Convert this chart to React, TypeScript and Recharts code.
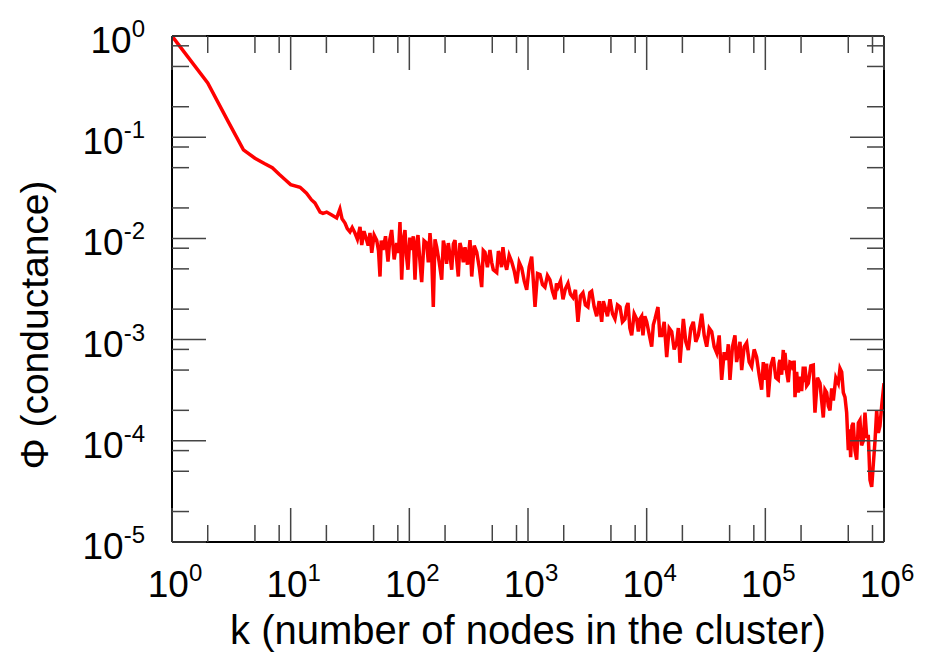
import { LineChart, Line, XAxis, YAxis } from 'recharts';

// cluster size k (x) and conductance phi (y)
const sizesHead = [1, 2, 3, 4, 5, 6, 7, 8, 9, 10, 12, 13.6, 15, 16, 17.7, 18.7, 20.1, 22.2, 24.4, 26, 27.1];
const phiHead = [1, 0.343, 0.14, 0.075, 0.062, 0.055, 0.05, 0.043, 0.038, 0.034, 0.032, 0.028, 0.024, 0.0224, 0.0182, 0.0177, 0.0182, 0.017, 0.0159, 0.0195, 0.0156];

// noisy band, k = 28 .. 510
const sizesMid = [
  28.7, 30, 31.6, 33, 34.8, 36.5, 38.4, 39.7, 41.5, 43.7,
  45, 46.6, 48.2, 50.5, 53.1, 55, 56.6, 58, 60, 63,
  66.1, 68.5, 71, 74.5, 78.3, 81, 83.4, 86.2, 89, 91.9,
  94.5, 97.4, 101, 104.7, 108, 111.6, 115, 118.3, 122.5, 127.1,
  133, 140, 144.5, 149.3, 154, 159.2, 164.5, 170.1, 178.5, 187.4,
  193.5, 199.7, 206, 213, 220, 227.5, 235, 242.5, 250.5, 258.6,
  267, 276, 285, 294.5, 309, 324.6, 330, 335.5, 352, 369.8,
  388, 407, 420, 434, 455, 478, 494, 510,
];
const phiMid = [
  0.0142, 0.0125, 0.0116, 0.0128, 0.0113, 0.0098, 0.013, 0.0086, 0.0118, 0.0096,
  0.0085, 0.0113, 0.0072, 0.0108, 0.0096, 0.0075, 0.0042, 0.0095, 0.0077, 0.0105,
  0.0059, 0.0098, 0.0121, 0.0062, 0.009, 0.0072, 0.0145, 0.0039, 0.0098, 0.0121,
  0.0068, 0.0049, 0.0102, 0.0077, 0.0105, 0.0039, 0.0088, 0.0108, 0.0062, 0.0037,
  0.0095, 0.009, 0.0058, 0.0113, 0.0072, 0.0021, 0.0098, 0.0082, 0.0058, 0.0039,
  0.0095, 0.008, 0.0056, 0.009, 0.0068, 0.0049, 0.0088, 0.0096, 0.0062, 0.0042,
  0.009, 0.0077, 0.0058, 0.0082, 0.0055, 0.0096, 0.0065, 0.0042, 0.0085, 0.0073,
  0.0052, 0.0033, 0.0076, 0.0073, 0.0052, 0.0077, 0.0058, 0.0049,
];

// k = 545 .. 10^4
const sizesMid2 = [
  545, 563, 581, 598, 615, 638, 661, 694, 728, 765,
  803, 843, 885, 929, 975, 1023, 1074, 1109, 1146, 1203,
  1262, 1325, 1390, 1459, 1531, 1607, 1687, 1738, 1790, 1879,
  1972, 2070, 2172, 2280, 2393, 2511, 2636, 2767, 2904, 3048,
  3199, 3318, 3441, 3612, 3791, 3979, 4177, 4314, 4455, 4676,
  4909, 5152, 5407, 5675, 5957, 6252, 6562, 6760, 6960, 7214,
  7477, 7847, 8237, 8510, 8790, 9078, 9306, 9650, 10000,
];
const phiMid2 = [
  0.0046, 0.0075, 0.0066, 0.0052, 0.0082, 0.0058, 0.0049, 0.0068, 0.0059, 0.0048,
  0.0036, 0.0058, 0.0051, 0.0038, 0.0031, 0.0052, 0.0066, 0.0038, 0.0021, 0.0045,
  0.0044, 0.0035, 0.0033, 0.0043, 0.0039, 0.003, 0.0025, 0.0036, 0.0033, 0.0038,
  0.0025, 0.0032, 0.0036, 0.0028, 0.0026, 0.0031, 0.0015, 0.0027, 0.0029, 0.0022,
  0.0021, 0.0029, 0.003, 0.0021, 0.0017, 0.0024, 0.0015, 0.0024, 0.0021, 0.0017,
  0.0025, 0.0018, 0.0016, 0.0022, 0.0021, 0.0015, 0.0016, 0.0021, 0.0023, 0.0013,
  0.0011, 0.0018, 0.0016, 0.0012, 0.0016, 0.0017, 0.0011, 0.0017, 0.0015,
];

// k = 1.1*10^4 .. 1.3*10^5
const sizesTail = [
  11020, 11380, 11750, 12450, 12910, 13390, 14050, 14750, 15480, 16250,
  17050, 17900, 18480, 19090, 20370, 21380, 22440, 23550, 24720, 25940,
  27230, 28150, 29090, 30540, 32060, 33650, 35320, 37070, 38910, 40840,
  42860, 44980, 47210, 48750, 50350, 52840, 55460, 57270, 59150, 61140,
  63190, 66320, 69610, 73060, 76690, 80490, 84480, 88660, 93060, 96130,
  99300, 102500, 105900, 111200, 116700, 122500, 128500,
];
const phiTail = [
  0.00085, 0.0014, 0.0016, 0.0021, 0.0011, 0.0011, 0.0015, 0.00067, 0.0013, 0.0012,
  0.0008, 0.00093, 0.0013, 0.00059, 0.0016, 0.00095, 0.00079, 0.0013, 0.0015, 0.00095,
  0.0011, 0.0014, 0.0018, 0.0011, 0.00085, 0.0013, 0.0012, 0.00085, 0.00074, 0.0011,
  0.0004, 0.00075, 0.00063, 0.0009, 0.0004, 0.00085, 0.0011, 0.0006, 0.00074, 0.00095,
  0.0005, 0.00085, 0.00093, 0.0006, 0.00054, 0.0008, 0.00067, 0.00045, 0.00032, 0.0006,
  0.0004, 0.00058, 0.00027, 0.00055, 0.00067, 0.00042, 0.0004,
];

// k = 1.3*10^5 .. 10^6
const sizesTail2 = [
  130600, 132800, 137200, 141700, 144000, 146400, 151200, 156100, 161300, 166700,
  172000, 174900, 177800, 183600, 189700, 195900, 202300, 208900, 212400, 215900,
  222900, 230200, 241600, 253600, 257800, 262000, 275100, 288800, 298200, 307900,
  318200, 328800, 339600, 350700, 362200, 374100, 392600, 412100, 425800, 439900,
  454200, 469000, 484500, 500100, 511800, 523700, 537100, 550800, 569400, 588600,
  607700, 627500, 647900, 669000, 691500, 714200, 737700, 762200, 787600, 813800,
  840000, 867600, 895700, 924800, 955800, 1000000,
];
const phiTail2 = [
  0.00058, 0.00063, 0.00045, 0.00079, 0.0005, 0.00074, 0.00048, 0.00038, 0.0006, 0.00059,
  0.0005, 0.00062, 0.00027, 0.00048, 0.0003, 0.00043, 0.00031, 0.00054, 0.00038, 0.00054,
  0.00035, 0.00037, 0.00055, 0.00056, 0.0003, 0.00019, 0.00042, 0.00037, 0.00025, 0.00017,
  0.00032, 0.0003, 0.00022, 0.0002, 0.00033, 0.00025, 0.00042, 0.00037, 0.00052, 0.00048,
  0.0003, 0.00027, 0.00019, 0.000081, 0.00013, 0.000069, 0.00014, 0.00015, 0.00008, 0.000065,
  0.00015, 0.00016, 0.00009, 0.0001, 0.00019, 0.00011, 0.00011, 0.000041, 0.000035, 0.00006,
  0.0001, 0.0002, 0.00012, 0.00014, 0.00022, 0.00037,
];

const xMajor = [1, 10, 100, 1000, 10000, 100000, 1000000];
const xMinor = [2, 5, 8, 20, 50, 80, 200, 500, 800, 2000, 5000, 8000, 20000, 50000, 80000, 200000, 500000, 800000];
const yMajor = [0.00001, 0.0001, 0.001, 0.01, 0.1, 1];
const yMinor = [0.00002, 0.00005, 0.00008, 0.0002, 0.0005, 0.0008, 0.002, 0.005, 0.008, 0.02, 0.05, 0.08, 0.2, 0.5, 0.8];
const xExp = ['0', '1', '2', '3', '4', '5', '6'];
const yExp = ['-5', '-4', '-3', '-2', '-1', '0'];

const pairs = (ks: number[], ps: number[]) => ks.map((k, i) => ({ k, phi: ps[i] }));
const data = [
  ...pairs(sizesHead, phiHead),
  ...pairs(sizesMid, phiMid),
  ...pairs(sizesMid2, phiMid2),
  ...pairs(sizesTail, phiTail),
  ...pairs(sizesTail2, phiTail2),
];

const FONT = '"Liberation Sans", Arial, sans-serif';
const TICK = '#444';
const MAJOR = 34;
const MINOR = 17;

const Pow = ({ x, y, anchor, exp }: any) => (
  <text x={x} y={y} textAnchor={anchor} fontFamily={FONT} fontSize={37} fill="#000">
    <tspan>10</tspan>
    <tspan dy={-16} fontSize={24}>{exp}</tspan>
  </text>
);

const BottomTick = ({ x, y, payload }: any) => {
  const i = xMajor.indexOf(payload.value);
  const len = i >= 0 ? MAJOR : MINOR;
  return (
    <g>
      <line x1={x} x2={x} y1={y} y2={y - len} stroke={TICK} strokeWidth={1.5} />
      {i >= 0 && <Pow x={x + 3} y={y + 55} anchor="middle" exp={xExp[i]} />}
    </g>
  );
};

const TopTick = ({ x, y, payload }: any) => {
  const len = xMajor.includes(payload.value) ? MAJOR : MINOR;
  return <line x1={x} x2={x} y1={y} y2={y + len} stroke={TICK} strokeWidth={1.5} />;
};

const LeftTick = ({ x, y, payload }: any) => {
  const i = yMajor.indexOf(payload.value);
  const len = i >= 0 ? MAJOR : MINOR;
  return (
    <g>
      <line x1={x} x2={x + len} y1={y} y2={y} stroke={TICK} strokeWidth={1.5} />
      {i >= 0 && <Pow x={x - 27} y={y + 17} anchor="end" exp={yExp[i]} />}
    </g>
  );
};

const RightTick = ({ x, y, payload }: any) => {
  const len = yMajor.includes(payload.value) ? MAJOR : MINOR;
  return <line x1={x} x2={x - len} y1={y} y2={y} stroke={TICK} strokeWidth={1.5} />;
};

const XTitle = ({ viewBox }: any) => (
  <text
    x={viewBox.x + viewBox.width / 2}
    y={viewBox.y + 102}
    textAnchor="middle"
    fontFamily={FONT}
    fontSize={40}
    fill="#000"
  >
    k (number of nodes in the cluster)
  </text>
);

const YTitle = ({ viewBox }: any) => {
  const cx = 48;
  const cy = viewBox.y + viewBox.height / 2 + 36;
  return (
    <text
      x={cx}
      y={cy}
      transform={`rotate(-90 ${cx} ${cy})`}
      textAnchor="middle"
      fontFamily={FONT}
      fontSize={39}
      fill="#000"
    >
      Φ (conductance)
    </text>
  );
};

const axisLine = { stroke: '#000', strokeWidth: 2 };

export default function App() {
  return (
    <div style={{ position: 'absolute', left: 0, top: 0, background: '#fff' }}>
      <LineChart width={934} height={665} data={data} margin={{ top: 35, right: 49, bottom: 63, left: 72 }}>
        <XAxis
          dataKey="k"
          type="number"
          scale="log"
          domain={[1, 1000000]}
          allowDataOverflow
          ticks={[...xMajor, ...xMinor]}
          interval={0}
          tick={<BottomTick />}
          tickLine={false}
          tickSize={0}
          tickMargin={0}
          axisLine={axisLine}
          height={60}
          label={<XTitle />}
        />
        <XAxis
          xAxisId="top"
          orientation="top"
          dataKey="k"
          type="number"
          scale="log"
          domain={[1, 1000000]}
          allowDataOverflow
          ticks={[...xMajor, ...xMinor]}
          interval={0}
          tick={<TopTick />}
          tickLine={false}
          tickSize={0}
          tickMargin={0}
          axisLine={axisLine}
          height={1}
        />
        <YAxis
          type="number"
          scale="log"
          domain={[0.00001, 1]}
          allowDataOverflow
          ticks={[...yMajor, ...yMinor]}
          interval={0}
          tick={<LeftTick />}
          tickLine={false}
          tickSize={0}
          tickMargin={0}
          axisLine={axisLine}
          width={100}
          label={<YTitle />}
        />
        <YAxis
          yAxisId="right"
          orientation="right"
          type="number"
          scale="log"
          domain={[0.00001, 1]}
          allowDataOverflow
          ticks={[...yMajor, ...yMinor]}
          interval={0}
          tick={<RightTick />}
          tickLine={false}
          tickSize={0}
          tickMargin={0}
          axisLine={axisLine}
          width={1}
        />
        <Line
          type="linear"
          dataKey="phi"
          stroke="#ff0000"
          strokeWidth={3.5}
          dot={false}
          isAnimationActive={false}
        />
      </LineChart>
    </div>
  );
}
